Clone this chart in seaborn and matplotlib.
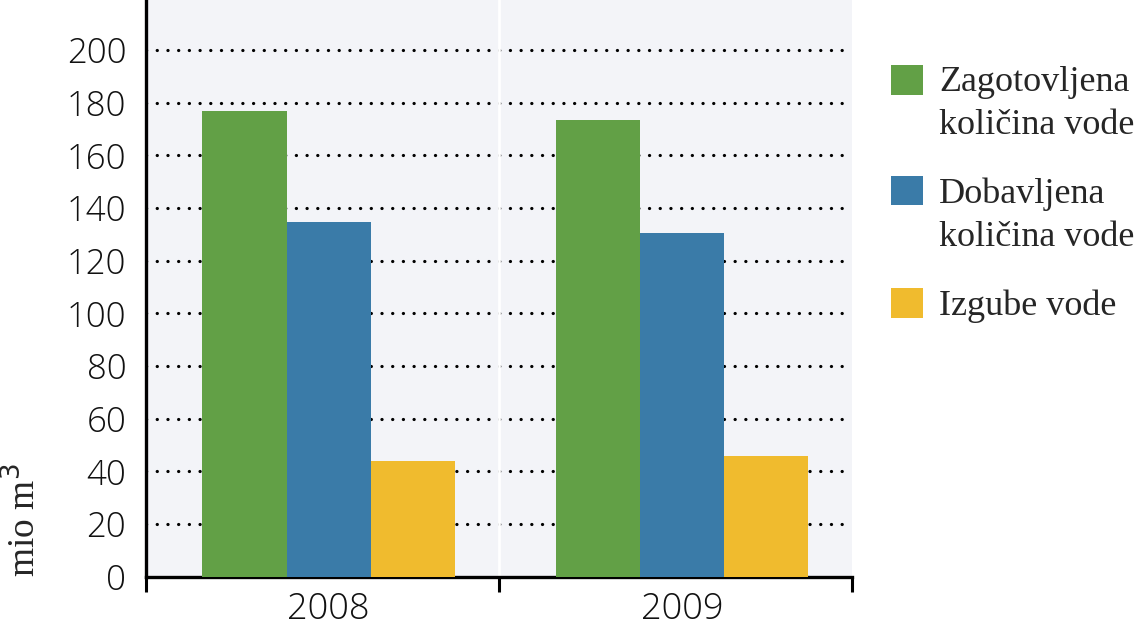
import pandas as pd
import matplotlib.pyplot as plt
import seaborn as sns
from matplotlib.patches import Rectangle
from matplotlib.legend_handler import HandlerPatch

# podatki
leta = ['2008', '2009']
zagotovljena = [177.0, 173.5]
dobavljena = [134.6, 130.4]
izgube = [44.1, 45.8]
serije = ['Zagotovljena\nkoličina vode', 'Dobavljena\nkoličina vode', 'Izgube vode']
barve = ['#62A046', '#3A7BA8', '#F0BB2E']

df = pd.DataFrame({
    'leto': leta * 3,
    'vrednost': zagotovljena + dobavljena + izgube,
    'serija': [serije[0]] * 2 + [serije[1]] * 2 + [serije[2]] * 2,
})

sns.set_style('white')
plt.rcParams['font.family'] = ['Liberation Serif', 'DejaVu Serif']

fig = plt.figure(figsize=(11.38, 6.29), dpi=100)
ax = fig.add_axes([0.128, 0.083, 0.621, 0.917])
ax.set_facecolor('#F3F4F8')

sns.barplot(data=df, x='leto', y='vrednost', hue='serija', hue_order=serije,
            palette=barve, width=0.715, saturation=1, linewidth=0, ax=ax, zorder=3)

lo, hi = -0.518, 1.482
ax.set_ylim(0, 219)
ax.set_xlim(lo, hi)
ax.set_yticks(range(0, 201, 20))
for v in range(20, 201, 20):
    ax.axhline(v, color='black', lw=2.3, linestyle=(0, (0.05, 3.3)),
               dash_capstyle='round', zorder=1)
ax.axvline(lo + 1, color='white', lw=2, zorder=1)

# osi
tick_font = dict(family=['Open Sans', 'DejaVu Sans'], weight='light', size=25, color='#111111')
ax.set_yticklabels([str(v) for v in range(0, 201, 20)], fontdict=tick_font)
ax.tick_params(axis='y', length=0, pad=14)
ax.set_xticks([0, 1])
ax.set_xticklabels(leta, fontdict=dict(tick_font, size=26))
ax.set_xticks([lo, lo + 1, hi], minor=True)
ax.tick_params(axis='x', which='major', length=0, pad=10)
ax.tick_params(axis='x', which='minor', length=11, width=2.2, color='black', direction='out', bottom=True)

for s in ['top', 'right']:
    ax.spines[s].set_visible(False)
for s in ['left', 'bottom']:
    ax.spines[s].set_color('black')
    ax.spines[s].set_linewidth(2.4)

ax.set_xlabel('')
ax.set_ylabel('mio m$^3$', fontsize=27, loc='bottom', labelpad=17)


def kvadrat_gor(legend, orig_handle, xdescent, ydescent, width, height, fontsize):
    return Rectangle((-xdescent, -ydescent + 0.68 * fontsize), width, height)


handles, labels = ax.get_legend_handles_labels()
hmap = {handles[0]: HandlerPatch(patch_func=kvadrat_gor),
        handles[1]: HandlerPatch(patch_func=kvadrat_gor)}
leg = ax.legend(handles, labels, handler_map=hmap, loc='upper left',
                bbox_to_anchor=(1.034, 0.91), frameon=False,
                fontsize=26, handlelength=0.88, handleheight=0.88, handletextpad=0.46,
                labelspacing=0.96, borderaxespad=0)
for t in leg.get_texts():
    t.set_linespacing(1.4)

plt.savefig('out.png', dpi=100)
